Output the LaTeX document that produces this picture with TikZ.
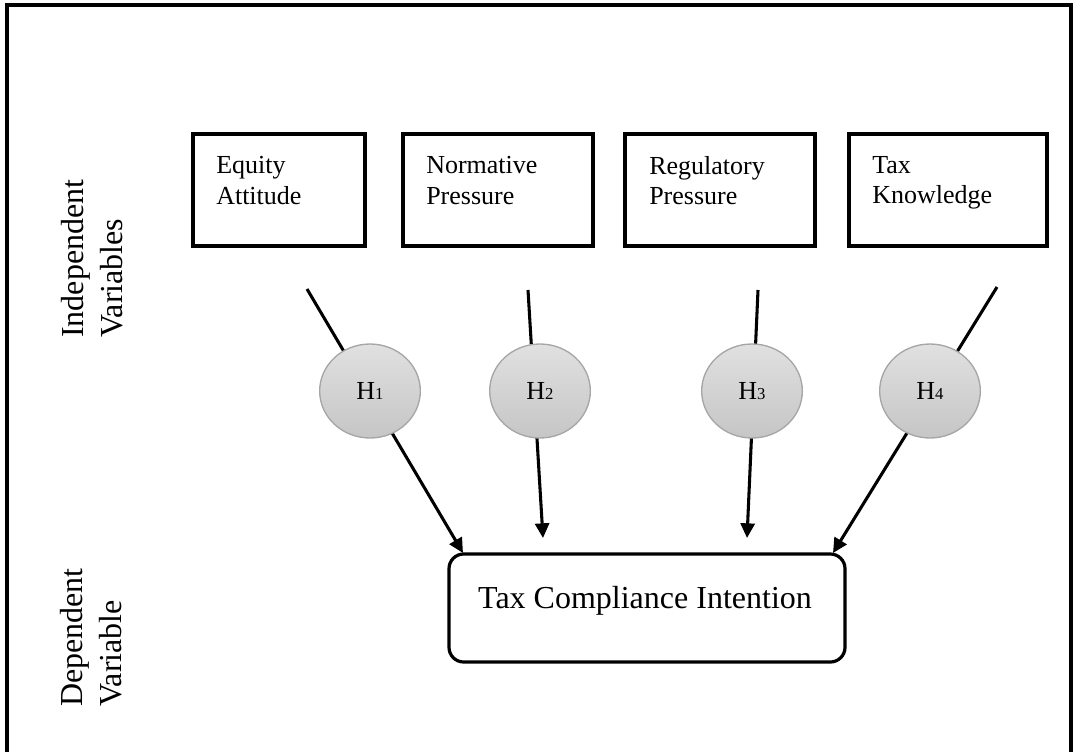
\documentclass[tikz,border=0pt]{standalone}
\usepackage{fontspec}
\setmainfont{Liberation Serif}
\usetikzlibrary{arrows.meta,backgrounds,shapes.geometric}
\begin{document}
\begin{tikzpicture}[x=0.75pt,y=-0.75pt,
  ivbox/.style={draw=black,line width=2.4pt,minimum height=84pt,inner sep=0pt},
  ivtext/.style={anchor=north west,inner sep=0pt,align=left,font=\fontsize{19.5pt}{23pt}\selectfont},
  hyp/.style={ellipse,draw=gray!70,line width=1pt,top color=gray!24,bottom color=gray!45,minimum width=75.5pt,minimum height=70.5pt,inner sep=0pt,font=\fontsize{19.5pt}{21pt}\selectfont},
  sub/.style={},
  dvbox/.style={draw=black,line width=2.4pt,rounded corners=11pt,minimum width=297pt,minimum height=81pt,inner sep=0pt},
  conn/.style={line width=2.3pt,-{Triangle[length=11pt,width=10.5pt]}},
  side/.style={rotate=90,anchor=north west,inner sep=0pt,align=left,font=\fontsize{24pt}{29pt}\selectfont}]
\newcommand{\hsub}[1]{{\fontsize{12.5pt}{14pt}\selectfont #1}}
\useasboundingbox (0,0) rectangle (1073,751);
\begin{scope}
\clip (0,0) rectangle (1073,751);
\draw[line width=2.3pt] (7,765) -- (7,5) -- (1071,5) -- (1071,765);
\end{scope}
% independent variable boxes
\node[ivbox,minimum width=129pt] (b1) at (279,190) {};
\node[ivbox,minimum width=142.5pt] (b2) at (498,190) {};
\node[ivbox,minimum width=142.5pt] (b3) at (720,190) {};
\node[ivbox,minimum width=148.5pt] (b4) at (948,190) {};
\node[ivtext] (b1t) at (216,156) {Equity\\Attitude};
\node[ivtext] (b2t) at (426,156) {Normative\\Pressure};
\node[ivtext] (b3t) at (649,156) {Regulatory\\Pressure};
\node[ivtext] (b4t) at (872,156) {Tax\\Knowledge};
% hypotheses
\node[hyp] (h1) at (370,391) {H\hsub{1}};
\node[hyp] (h2) at (540,391) {H\hsub{2}};
\node[hyp] (h3) at (752,391) {H\hsub{3}};
\node[hyp] (h4) at (930,391) {H\hsub{4}};
% dependent variable
\node[dvbox] (dv) at (647,608) {};
\node[inner sep=0pt,anchor=base,font=\fontsize{24pt}{28pt}\selectfont] (dvt) at (645,608) {Tax Compliance Intention};
% connectors
\coordinate (s1) at (307,289);
\coordinate (s2) at (528,290);
\coordinate (s3) at (758,290);
\coordinate (s4) at (997,287);
\coordinate (t1) at (463,553);
\coordinate (t2) at (543,538);
\coordinate (t3) at (747,538);
\coordinate (t4) at (833,553);
\begin{pgfonlayer}{background}
\draw[conn] (s1) -- (t1);
\draw[conn] (s2) -- (t2);
\draw[conn] (s3) -- (t3);
\draw[conn] (s4) -- (t4);
\end{pgfonlayer}
% side labels
\node[side] (iv) at (61,338) {Independent\\Variables};
\node[side] (dvl) at (60,707) {Dependent\\Variable};
\end{tikzpicture}
\end{document}
